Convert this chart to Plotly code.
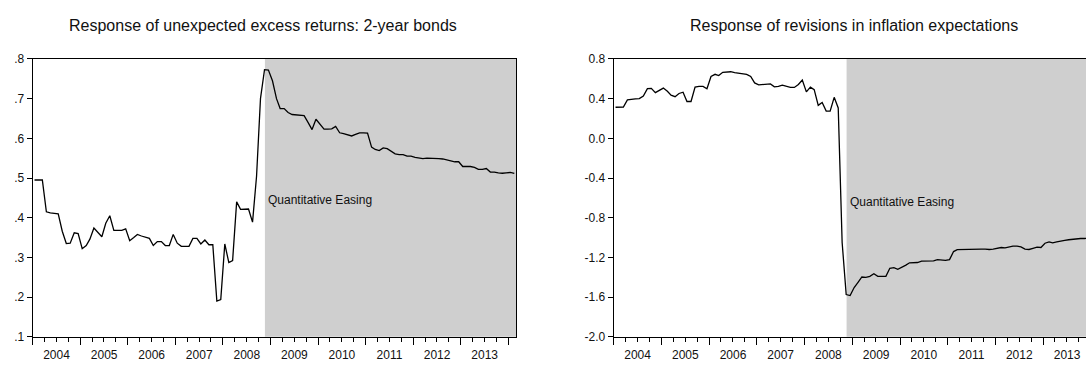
import pandas as pd
import plotly.graph_objects as go

# Monthly observations, 2004M01 - 2014M02
months = pd.date_range("2004-01-01", periods=122, freq="MS") + pd.Timedelta(days=14)

excess_returns_2y = [
    0.495, 0.495, 0.495, 0.415, 0.412, 0.411, 0.410, 0.366, 0.335, 0.336,
    0.362, 0.360, 0.322, 0.330, 0.346, 0.374, 0.362, 0.352, 0.386, 0.405,
    0.368, 0.368, 0.368, 0.372, 0.342, 0.350, 0.358, 0.354, 0.352, 0.348,
    0.330, 0.340, 0.340, 0.330, 0.330, 0.358, 0.336, 0.328, 0.328, 0.328,
    0.348, 0.348, 0.334, 0.344, 0.332, 0.332, 0.190, 0.194, 0.334, 0.287,
    0.292, 0.440, 0.421, 0.421, 0.422, 0.389, 0.505, 0.700, 0.773, 0.772,
    0.745, 0.700, 0.675, 0.675, 0.665, 0.660, 0.659, 0.659, 0.657, 0.640,
    0.622, 0.648, 0.636, 0.623, 0.623, 0.624, 0.630, 0.614, 0.612, 0.608,
    0.606, 0.610, 0.614, 0.614, 0.613, 0.578, 0.572, 0.569, 0.576, 0.574,
    0.567, 0.561, 0.559, 0.559, 0.555, 0.555, 0.552, 0.550, 0.549, 0.550,
    0.550, 0.549, 0.549, 0.548, 0.546, 0.543, 0.541, 0.541, 0.529, 0.529,
    0.529, 0.527, 0.522, 0.522, 0.524, 0.515, 0.515, 0.513, 0.512, 0.513,
    0.514, 0.512,
]

inflation_revisions = [
    0.313, 0.313, 0.315, 0.387, 0.394, 0.397, 0.400, 0.426, 0.500, 0.503,
    0.461, 0.484, 0.506, 0.474, 0.435, 0.420, 0.452, 0.465, 0.371, 0.371,
    0.516, 0.523, 0.523, 0.500, 0.623, 0.645, 0.632, 0.665, 0.671, 0.671,
    0.661, 0.655, 0.655, 0.645, 0.623, 0.558, 0.539, 0.542, 0.545, 0.548,
    0.519, 0.523, 0.535, 0.523, 0.513, 0.513, 0.542, 0.587, 0.468, 0.516,
    0.490, 0.332, 0.361, 0.274, 0.274, 0.413, 0.306, -1.050, -1.574, -1.584,
    -1.503, -1.448, -1.397, -1.400, -1.390, -1.364, -1.390, -1.390, -1.390, -1.309,
    -1.303, -1.319, -1.300, -1.277, -1.254, -1.254, -1.251, -1.238, -1.238, -1.238,
    -1.235, -1.222, -1.229, -1.229, -1.222, -1.141, -1.122, -1.120, -1.120, -1.120,
    -1.120, -1.116, -1.116, -1.116, -1.120, -1.116, -1.106, -1.100, -1.103, -1.093,
    -1.087, -1.087, -1.093, -1.116, -1.120, -1.109, -1.097, -1.100, -1.057, -1.044,
    -1.054, -1.044, -1.034, -1.028, -1.022, -1.015, -1.012, -1.009, -1.009, -1.005,
    -1.000, -1.000,
]

left_ticks = [0.1, 0.2, 0.3, 0.4, 0.5, 0.6, 0.7, 0.8]
left_ticktext = [".1", ".2", ".3", ".4", ".5", ".6", ".7", ".8"]
right_ticks = [-2.0, -1.6, -1.2, -0.8, -0.4, 0.0, 0.4, 0.8]
right_ticktext = ["-2.0", "-1.6", "-1.2", "-0.8", "-0.4", "0.0", "0.4", "0.8"]

left_title = "Response of unexpected excess returns: 2-year bonds"
right_title = "Response of revisions in inflation expectations"
qe_label = "Quantitative Easing"
qe_start = "2008-11-18"
sample_start = "2004-01-01"
left_end = "2014-02-28"
right_end = "2013-11-25"

FONT = "Liberation Sans, Arial, sans-serif"
INK = "#111111"
SHADE = "#cfcfcf"

fig = go.Figure()
fig.add_trace(go.Scatter(x=months, y=excess_returns_2y, mode="lines",
                         line=dict(color="black", width=1.3),
                         xaxis="x", yaxis="y", showlegend=False))
fig.add_trace(go.Scatter(x=months, y=inflation_revisions, mode="lines",
                         line=dict(color="black", width=1.3),
                         xaxis="x2", yaxis="y2", showlegend=False))

xcommon = dict(
    type="date", dtick="M12", tick0="2004-01-01", ticklabelmode="period",
    tickformat="%Y", ticks="outside", ticklen=7, tickwidth=1, tickcolor="black",
    showline=True, linecolor="black", linewidth=1, mirror=True,
    showgrid=False, zeroline=False,
    tickfont=dict(family=FONT, size=12, color=INK),
    minor=dict(dtick="M3", ticks="outside", ticklen=4, tickwidth=1,
               tickcolor="black", showgrid=False),
)
ycommon = dict(
    ticks="outside", ticklen=5, tickwidth=1, tickcolor="black",
    showline=True, linecolor="black", linewidth=1,
    showgrid=False, zeroline=False,
    tickfont=dict(family=FONT, size=12, color=INK),
)

ydom = [22 / 365, 311 / 365]
fig.update_layout(
    width=1086, height=365,
    margin=dict(l=0, r=0, t=0, b=0),
    paper_bgcolor="white", plot_bgcolor="white",
    xaxis=dict(xcommon, domain=[32.7 / 1086, 516 / 1086],
               range=[sample_start, left_end], anchor="y"),
    yaxis=dict(ycommon, domain=ydom, range=[0.1, 0.8], mirror=True,
               tickvals=left_ticks, ticktext=left_ticktext, anchor="x"),
    xaxis2=dict(xcommon, domain=[613.7 / 1086, 1.0],
                range=[sample_start, right_end], anchor="y2"),
    yaxis2=dict(ycommon, domain=ydom, range=[-2.0, 0.8], mirror=False,
                tickvals=right_ticks, ticktext=right_ticktext, anchor="x2"),
)

# Quantitative easing period shading
for xr, yr, end in (("x", "y", left_end), ("x2", "y2", right_end)):
    fig.add_shape(type="rect", xref=xr, yref=f"{yr} domain",
                  x0=qe_start, x1=end, y0=0, y1=1,
                  fillcolor=SHADE, line=dict(width=0), layer="below")

fig.add_annotation(x=qe_start, y=0.444, xref="x", yref="y", text=qe_label,
                   showarrow=False, xanchor="left", yanchor="middle", xshift=1,
                   font=dict(family=FONT, size=12, color=INK))
fig.add_annotation(x=qe_start, y=-0.637, xref="x2", yref="y2", text=qe_label,
                   showarrow=False, xanchor="left", yanchor="middle", xshift=1,
                   font=dict(family=FONT, size=12, color=INK))

fig.add_annotation(x=263 / 1086, y=(365 - 19) / 365, xref="paper", yref="paper",
                   text=left_title, showarrow=False, xanchor="center",
                   yanchor="middle",
                   font=dict(family=FONT, size=16, color=INK))
fig.add_annotation(x=854 / 1086, y=(365 - 19) / 365, xref="paper", yref="paper",
                   text=right_title, showarrow=False, xanchor="center",
                   yanchor="middle",
                   font=dict(family=FONT, size=16, color=INK))

fig.write_html("out.html")
